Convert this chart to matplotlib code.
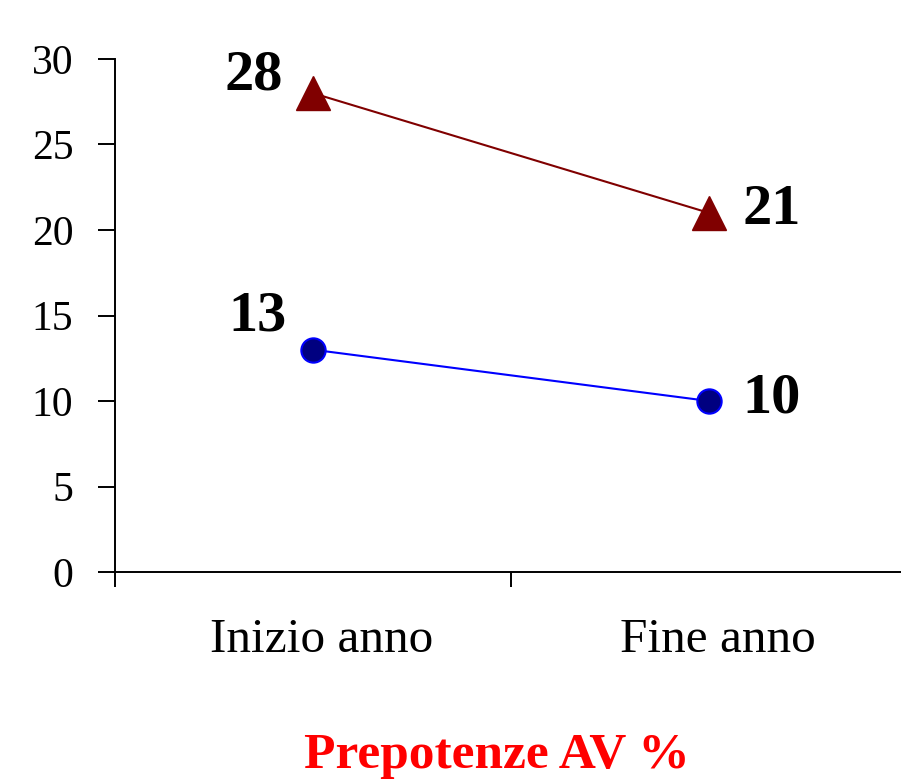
import matplotlib.pyplot as plt
from matplotlib.transforms import ScaledTranslation

categories = ["Inizio anno", "Fine anno"]
serie_rossa = [28, 21]
serie_blu = [13, 10]
titolo = "Prepotenze AV %"

plt.rcParams["font.family"] = ["Liberation Serif", "DejaVu Serif"]

fig = plt.figure(figsize=(9.01, 7.8), dpi=100)
ax = fig.add_axes([115 / 901, 1 - 572 / 780, 792 / 901, (572 - 59) / 780])

x = list(range(len(categories)))
ax.plot(x, serie_rossa, "-", color="#800000", lw=1.5, marker="^", ms=24,
        mfc="#800000", mec="#800000", clip_on=False)
ax.plot(x, serie_blu, "-", color="#0000ff", lw=1.5, marker="o", ms=17.5,
        mfc="#000080", mec="#0000ff", mew=1.5, clip_on=False)

# etichette dati: a sinistra per il primo punto, a destra per il secondo
offsets = {
    (0, 0): (-43, 3), (0, 1): (45, -8),
    (1, 0): (-40, 14), (1, 1): (45, -8),
}
for i, serie in enumerate((serie_rossa, serie_blu)):
    for j, v in enumerate(serie):
        ax.annotate(str(v), (x[j], v), xytext=offsets[(i, j)],
                    textcoords="offset points", ha="center", va="baseline",
                    fontsize=42, fontweight="bold")

ax.set_xlim(-0.5, 1.5)
ax.set_ylim(0, 30)
ax.set_yticks(range(0, 31, 5))
ax.set_xticks([-0.5, 0.5, 1.5])
ax.set_xticklabels([])
ax.set_xticks(x, minor=True)
ax.set_xticklabels(categories, minor=True)
ax.tick_params(axis="x", which="major", direction="out", length=11, width=1.4)
ax.tick_params(axis="x", which="minor", length=0, pad=33, labelsize=35.5)
ax.tick_params(axis="y", direction="out", length=12, width=1.4, labelsize=30, pad=18)

# le etichette di categoria sono leggermente spostate a destra
shift = ScaledTranslation(9 / 100, 0, fig.dpi_scale_trans)
for lab in ax.get_xticklabels(minor=True):
    lab.set_transform(lab.get_transform() + shift)

for side in ("top", "right"):
    ax.spines[side].set_visible(False)
for side in ("left", "bottom"):
    ax.spines[side].set_linewidth(1.4)

fig.text(497 / 901, 1 - 768 / 780, titolo, color="red", fontsize=37,
         fontweight="bold", ha="center", va="baseline")

fig.savefig("out.png", dpi=100)
